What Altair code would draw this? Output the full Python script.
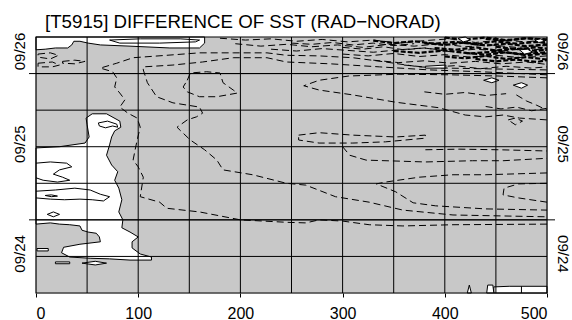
import altair as alt
import pandas as pd

TITLE = "[T5915] DIFFERENCE OF SST (RAD\u2212NORAD)"

# ---- axes (x: distance, y: hours since 09/24 12Z) ----
X_DOMAIN = [0, 500]
Y_DOMAIN = [0, 42]
x_tick_values = [0, 100, 200, 300, 400, 500]
x_grid_values = [50, 100, 150, 200, 250, 300, 350, 400, 450]
y_grid_values = [6, 12, 18, 24, 30, 36]
day_boundaries = [12, 36]
day_labels = ["09/24", "09/25", "09/26"]
day_label_hours = [6.5, 24.5, 39.7]

# ---- positive (white) regions, outlined by the zero contour ----
wtop_x = [0, 165, 165, 160, 131, 92, 63, 51, 43, 37, 35, 31, 19, 9, 0]
wtop_y = [42, 42, 41.0, 40.2, 40.2, 40.5, 40.7, 41.0, 41.3, 41.3, 40.7, 40.2, 40.2, 40.0, 39.9]
wleft_x = [0, 23, 48, 52, 50, 49, 55, 69, 82, 83, 77, 74, 72, 69, 74, 80, 77, 81, 84, 81,
           85, 84, 92, 100, 94, 94, 102, 113, 113, 92, 72, 53, 33, 25, 27, 43, 63, 62, 59, 51,
           45, 43, 33, 23, 14, 0]
wleft_y = [23.8, 24.0, 24.6, 25.6, 27.6, 28.7, 29.4, 29.4, 28.2, 27.2, 26.6, 25.6, 24.3, 22.6, 21.0, 19.9, 18.5, 17.2, 15.3, 13.3,
           12.0, 10.7, 10.0, 9.2, 8.4, 7.4, 6.4, 5.9, 5.4, 5.4, 5.6, 5.7, 5.9, 6.6, 7.5, 8.0, 8.4, 9.2, 9.8, 10.0,
           10.3, 11.0, 11.2, 11.3, 11.5, 11.3]
wb1_x = [1, 12, 12, 1]
wb1_y = [7.3, 7.3, 6.9, 6.9]
wb2_x = [19, 33, 33, 19]
wb2_y = [5.1, 5.1, 4.8, 4.8]
wb3_x = [45, 58, 69, 58]
wb3_y = [4.9, 5.2, 4.9, 4.6]
wbr_x = [448, 448, 463, 500, 500]
wbr_y = [0, 1.0, 1.1, 1.1, 0]
ws1_x = [422, 424, 426]
ws1_y = [0, 1.3, 0]
ws2_x = [441, 442, 447, 448]
ws2_y = [0, 1.3, 1.3, 0]
# small positive spots inside the dense top-right area
wt1_x = [413, 420, 425, 418]
wt1_y = [41.8, 42.0, 41.5, 41.2]
wt2_x = [473, 481, 486, 478]
wt2_y = [39.9, 40.0, 39.5, 39.2]
wt3_x = [438, 446, 453, 446]
wt3_y = [34.9, 35.3, 34.9, 34.5]
wt4_x = [467, 475, 481, 475]
wt4_y = [34.1, 34.5, 34.1, 33.6]
wt5_x = [381, 401, 401, 381]
wt5_y = [37.2, 37.4, 36.9, 36.9]
wt6_x = [488, 494, 498, 492]
wt6_y = [41.5, 41.7, 41.3, 41.1]

# ---- positive contours inside white regions (solid) ----
pt_x = [72, 102, 141, 160, 156, 121, 82, 72]
pt_y = [41.5, 41.7, 41.7, 41.5, 41.2, 41.0, 41.0, 41.5]
p1_x = [0, 14, 30, 35, 23, 17, 26, 33, 21, 7, 0]
p1_y = [21.3, 21.5, 21.3, 20.7, 20.2, 19.5, 19.0, 18.5, 18.2, 18.5, 18.9]
p2_x = [0, 19, 38, 53, 63, 72, 66, 55, 43, 28, 14, 0]
p2_y = [16.7, 16.9, 17.2, 16.9, 16.2, 15.8, 15.1, 15.3, 15.4, 15.3, 15.4, 15.6]
p3_x = [9, 15, 21, 15, 9]
p3_y = [16.0, 16.1, 15.9, 15.8, 16.0]
p4_x = [11, 17, 23, 17, 11]
p4_y = [12.9, 13.3, 12.9, 12.5, 12.9]
p5_x = [61, 70, 79, 80, 75, 68, 62, 61]
p5_y = [27.9, 28.2, 27.7, 27.2, 27.4, 27.1, 27.4, 27.9]
p6_x = [475, 475]
p6_y = [0, 1.1]

# ---- negative contours (dashed) ----
na_x = [500, 408, 359, 326, 300, 277, 264, 245, 200, 160, 128, 121, 102, 105, 100, 95, 97, 99, 102, 99,
        90, 82, 87, 82, 77, 79, 75, 63, 79, 95, 128, 160, 193, 226, 245, 277, 310, 342, 375, 401, 500]
na_y = [11.3, 11.2, 11.0, 11.2, 11.8, 12.0, 11.5, 11.6, 12.0, 13.3, 13.9, 14.9, 15.8, 19.0, 20.7, 21.8, 23.5, 25.1, 27.2, 28.7,
        29.5, 30.5, 31.7, 32.8, 33.8, 35.3, 36.3, 36.9, 37.7, 38.6, 39.0, 39.4, 39.4, 39.4, 39.0, 38.9, 38.6, 37.9, 37.1, 36.9, 36.6]
nb_x = [500, 435, 385, 336, 288, 245, 226, 193, 163, 134, 105, 105, 109, 118, 134, 160, 163, 157, 148, 138,
        141, 151, 165, 177, 183, 212, 245, 264, 293, 326, 359, 408, 500]
nb_y = [35.8, 36.3, 36.6, 37.1, 37.6, 37.9, 38.6, 38.6, 37.9, 37.4, 37.1, 36.6, 34.5, 32.2, 31.2, 30.5, 29.5, 28.9, 28.4, 27.2,
        26.7, 25.1, 23.5, 21.8, 20.2, 19.4, 18.0, 17.7, 15.8, 14.9, 13.6, 12.8, 12.5]
nc_x = [148, 151, 167, 180, 183, 193, 197, 177, 160, 148, 144, 148]
nc_y = [34.9, 36.1, 36.3, 36.1, 34.5, 33.3, 32.8, 32.2, 32.2, 33.0, 33.8, 34.9]
nd_x = [500, 452, 404, 355, 306, 277, 262, 277, 310, 352, 394, 420, 440, 457, 473, 500]
nd_y = [35.3, 35.6, 35.8, 35.9, 35.6, 34.9, 34.0, 33.3, 32.5, 31.3, 30.4, 29.2, 28.9, 29.2, 28.7, 28.4]
ne_x = [257, 277, 310, 352, 381, 381, 342, 310, 277, 257, 257]
ne_y = [25.9, 26.3, 25.9, 25.6, 25.9, 25.4, 24.8, 24.6, 24.6, 25.1, 25.9]
nf_x = [300, 307, 323, 381, 427, 457, 500]
nf_y = [24.0, 22.6, 21.8, 21.5, 21.7, 21.7, 22.1]
ng_x = [381, 414, 453, 500]
ng_y = [23.5, 23.6, 23.5, 23.3]
nh_x = [500, 440, 408, 375, 342, 333, 352, 369, 391, 440, 500]
nh_y = [19.7, 19.4, 19.4, 19.0, 18.2, 17.9, 16.6, 14.8, 14.3, 13.8, 13.6]
ni_x = [500, 472, 458, 457, 472, 500]
ni_y = [18.0, 17.9, 17.2, 16.1, 15.6, 14.9]
nj_x = [462, 469, 476, 469, 462]
nj_y = [28.4, 28.7, 28.2, 27.6, 28.4]
nk_x = [2, 14, 22, 14, 2, 2]
nk_y = [39.2, 39.4, 39.0, 38.4, 38.7, 39.2]
nl_x = [2, 16, 23, 16, 2, 2]
nl_y = [37.7, 37.9, 37.4, 37.1, 37.1, 37.7]
nm_x = [26, 38, 48, 38, 26, 26]
nm_y = [38.0, 38.2, 38.0, 37.6, 37.7, 38.0]
ns1_x = [380, 400, 420, 440, 460]
ns1_y = [33.0, 32.6, 32.9, 32.4, 32.7]
ns2_x = [470, 480, 490, 500]
ns2_y = [32.5, 31.5, 30.8, 30.0]
ns3_x = [440, 455, 470, 485, 500]
ns3_y = [30.6, 30.2, 30.5, 29.9, 30.3]

# ---- dense negative contours near the top right ----
d1_x = [180, 205, 230, 255, 280, 305, 330, 355, 380, 405, 430, 455, 480, 500]
d1_y = [41.8, 41.5, 41.7, 41.3, 41.6, 41.2, 41.5, 41.0, 41.4, 41.7, 41.1, 41.5, 41.2, 41.6]
d2_x = [195, 220, 245, 270, 295, 320, 345, 370, 395, 420, 445, 470, 500]
d2_y = [40.9, 40.5, 40.8, 40.4, 40.7, 40.3, 40.8, 40.5, 40.9, 40.4, 40.7, 40.3, 40.6]
d3_x = [230, 255, 280, 305, 330, 355, 380, 405, 430, 455, 480, 500]
d3_y = [40.0, 39.7, 40.1, 39.8, 39.5, 39.9, 40.2, 39.6, 40.0, 39.7, 40.1, 39.8]
d4_x = [300, 325, 350, 375, 400, 425, 450, 475, 500]
d4_y = [39.2, 38.9, 39.3, 38.8, 39.1, 38.7, 39.0, 38.6, 38.9]
d5_x = [330, 355, 380, 405, 430, 455, 480, 500]
d5_y = [38.2, 37.8, 38.1, 37.7, 38.0, 37.6, 37.9, 37.5]
d6_x = [360, 385, 410, 435, 460, 485, 500]
d6_y = [37.4, 37.0, 37.3, 36.8, 37.2, 36.9, 37.1]
d7_x = [250, 270, 290, 310, 330, 350, 370]
d7_y = [41.0, 40.8, 41.1, 40.7, 41.0, 40.6, 40.9]
d8_x = [300, 320, 340, 360, 380, 400]
d8_y = [40.3, 40.0, 40.4, 39.9, 40.2, 39.8]
h1_x = [380, 400, 420, 440, 460, 480, 500]
h1_y = [41.0, 40.7, 41.1, 40.6, 40.9, 40.5, 40.8]
h2_x = [390, 410, 430, 450, 470, 490, 500]
h2_y = [40.2, 39.9, 40.3, 39.8, 40.1, 39.7, 40.0]
h3_x = [420, 440, 460, 480, 500]
h3_y = [39.4, 39.1, 39.5, 39.0, 39.3]
h4_x = [430, 450, 470, 490, 500]
h4_y = [38.4, 38.0, 38.3, 37.9, 38.2]
h5_x = [330, 350, 370, 390, 410, 430, 450, 470, 490, 500]
h5_y = [41.4, 41.0, 41.3, 40.9, 41.2, 40.8, 41.3, 40.9, 41.2, 41.0]
h6_x = [350, 375, 400, 425, 450, 475, 500]
h6_y = [39.7, 39.4, 39.8, 39.3, 39.6, 39.2, 39.5]
h7_x = [400, 420, 440, 460, 480, 500]
h7_y = [38.8, 38.5, 38.9, 38.4, 38.7, 38.3]
h8_x = [440, 460, 480, 500]
h8_y = [41.7, 41.4, 41.8, 41.5]
h9_x = [400, 420, 440, 460, 480, 500]
h9_y = [41.9, 41.6, 41.9, 41.5, 41.8, 41.6]
h10_x = [450, 470, 490, 500]
h10_y = [40.4, 40.0, 40.3, 40.1]


def to_frame(shapes):
    rows = []
    for cid, (xs, ys) in enumerate(shapes):
        for i, (x, y) in enumerate(zip(xs, ys)):
            rows.append({"cid": cid, "i": i, "x": x, "y": y})
    return pd.DataFrame(rows)


white_df = to_frame([(wtop_x, wtop_y), (wleft_x, wleft_y), (wb1_x, wb1_y), (wb2_x, wb2_y),
                     (wb3_x, wb3_y), (wbr_x, wbr_y), (ws1_x, ws1_y), (ws2_x, ws2_y)])
spot_df = to_frame([(wt1_x, wt1_y), (wt2_x, wt2_y), (wt3_x, wt3_y), (wt4_x, wt4_y),
                    (wt5_x, wt5_y), (wt6_x, wt6_y)])
solid_df = to_frame([(pt_x, pt_y), (p1_x, p1_y), (p2_x, p2_y), (p3_x, p3_y), (p4_x, p4_y),
                     (p5_x, p5_y), (p6_x, p6_y)])
dash_df = to_frame([(na_x, na_y), (nb_x, nb_y), (nc_x, nc_y), (nd_x, nd_y), (ne_x, ne_y),
                    (nf_x, nf_y), (ng_x, ng_y), (nh_x, nh_y), (ni_x, ni_y), (nj_x, nj_y),
                    (nk_x, nk_y), (nl_x, nl_y), (nm_x, nm_y), (ns1_x, ns1_y), (ns2_x, ns2_y),
                    (ns3_x, ns3_y),
                    (d1_x, d1_y), (d2_x, d2_y), (d3_x, d3_y), (d4_x, d4_y), (d5_x, d5_y),
                    (d6_x, d6_y), (d7_x, d7_y), (d8_x, d8_y)])
heavy_df = to_frame([(h1_x, h1_y), (h2_x, h2_y), (h3_x, h3_y), (h4_x, h4_y), (h5_x, h5_y),
                     (h6_x, h6_y), (h7_x, h7_y), (h8_x, h8_y), (h9_x, h9_y), (h10_x, h10_y)])

bg_df = pd.DataFrame({"x0": [X_DOMAIN[0]], "x1": [X_DOMAIN[1]], "y0": [Y_DOMAIN[0]], "y1": [Y_DOMAIN[1]]})
title_df = pd.DataFrame({"t": [TITLE]})

W, H = 511, 256
FONT = "Liberation Sans"
xs = alt.Scale(domain=X_DOMAIN, nice=False, zero=False)
ys = alt.Scale(domain=Y_DOMAIN, nice=False, zero=False)

label_expr = " : ".join(
    f"datum.value < {(day_label_hours[k] + day_label_hours[k + 1]) / 2} ? '{day_labels[k]}'"
    for k in range(len(day_labels) - 1)) + f" : '{day_labels[-1]}'"

x_axis = alt.Axis(values=x_tick_values, grid=False, domain=False, ticks=True, tickSize=4,
                  tickColor="black", labelFont=FONT, labelFontSize=16, labelColor="black",
                  labelPadding=8, title=None, zindex=1)
y_left = alt.Axis(orient="left", values=day_label_hours, labelExpr=label_expr, grid=False,
                  domain=False, ticks=False, tickSize=0, labelAngle=270, labelAlign="center",
                  labelBaseline="alphabetic", labelPadding=12, labelFont=FONT,
                  labelFontSize=15, labelColor="black", title=None, zindex=1)
y_right = alt.Axis(orient="right", values=day_label_hours, labelExpr=label_expr, grid=False,
                   domain=False, ticks=False, tickSize=0, labelAngle=90, labelAlign="center",
                   labelBaseline="alphabetic", labelPadding=10, labelFont=FONT,
                   labelFontSize=15, labelColor="black", title=None, zindex=1)

DASH = [7, 4]


def lines(df, **mark):
    return alt.Chart(df).mark_line(**mark).encode(
        x=alt.X("x:Q", scale=xs, axis=None), y=alt.Y("y:Q", scale=ys, axis=None),
        detail="cid:N", order="i:Q")


bg = alt.Chart(bg_df).mark_rect(color="#c8c8c8").encode(
    x=alt.X("x0:Q", scale=xs, axis=x_axis), x2="x1:Q",
    y=alt.Y("y0:Q", scale=ys, axis=y_left), y2="y1:Q")

white = lines(white_df, fill="white", stroke="black", strokeWidth=1, interpolate="linear-closed")
spots = lines(spot_df, fill="white", stroke="black", strokeWidth=1, interpolate="linear-closed")
solid = lines(solid_df, stroke="black", strokeWidth=1)
dashed = lines(dash_df, stroke="black", strokeWidth=1, strokeDash=DASH)
heavy = lines(heavy_df, stroke="black", strokeWidth=2.2, strokeDash=[5, 2])

grid_v = alt.Chart(pd.DataFrame({"x": x_grid_values})).mark_rule(color="black", strokeWidth=1).encode(
    x=alt.X("x:Q", scale=xs, axis=None))
grid_h = alt.Chart(pd.DataFrame({"y": y_grid_values})).mark_rule(color="black", strokeWidth=1).encode(
    y=alt.Y("y:Q", scale=ys, axis=None))

day_rules = alt.Chart(pd.DataFrame({"y": day_boundaries})).mark_rule(color="black", strokeWidth=1).encode(
    y=alt.Y("y:Q", scale=ys, axis=None), x=alt.value(-7), x2=alt.value(W + 8))

frame = alt.Chart(bg_df).mark_rect(filled=False, stroke="black", strokeWidth=1.2).encode(
    x=alt.X("x0:Q", scale=xs, axis=None), x2="x1:Q",
    y=alt.Y("y0:Q", scale=ys, axis=y_right), y2="y1:Q")

title = alt.Chart(title_df).mark_text(
    align="left", baseline="alphabetic", font=FONT, fontSize=18.7, color="black").encode(
    text="t:N", x=alt.value(9), y=alt.value(-9))

chart = alt.layer(bg, white, solid, dashed, heavy, spots, grid_v, grid_h, day_rules, frame, title).resolve_axis(
    x="independent", y="independent"
).properties(
    width=W, height=H,
    autosize=alt.AutoSizeParams(type="none"),
    padding={"left": 36, "top": 37, "right": 25, "bottom": 27},
).configure_view(stroke=None).configure(background="white")

chart.save("out.html", embed_options={"renderer": "svg", "actions": False})
